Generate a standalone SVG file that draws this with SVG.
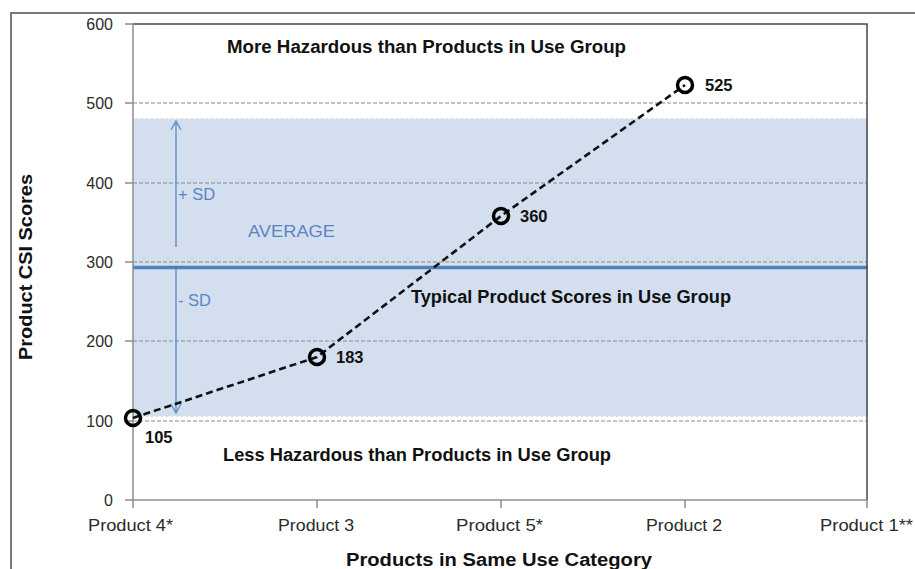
<svg xmlns="http://www.w3.org/2000/svg" width="915" height="569" viewBox="0 0 915 569">
  <style>
    .axis { stroke: #8c8c8c; stroke-width: 1.5; fill: none; }
    .frame { stroke: #4a4a4a; stroke-width: 1.5; fill: none; }
    .grid { stroke: #8a8a8a; stroke-width: 1; stroke-dasharray: 4 2; fill: none; }
    .tick { font-family: "Liberation Sans", Arial, sans-serif; font-size: 16px; fill: #2b2b2b; }
    .zone { font-family: "Liberation Sans", Arial, sans-serif; font-size: 17.5px; font-weight: bold; fill: #111; }
    .val { font-family: "Liberation Sans", Arial, sans-serif; font-size: 16.5px; font-weight: bold; fill: #111; }
    .sd { font-family: "Liberation Sans", Arial, sans-serif; font-size: 16.5px; fill: #5b85bf; }
    .title { font-family: "Liberation Sans", Arial, sans-serif; font-size: 18px; font-weight: bold; fill: #111; }
    .series { stroke: #111; stroke-width: 2.6; stroke-dasharray: 7 4; fill: none; }
    .pt { stroke: #000; stroke-width: 3.5; fill: none; }
    .sdline { stroke: #6a93c8; stroke-width: 1.5; fill: none; }
  </style>
  <defs>
    <marker id="open-head" viewBox="0 0 12 12" refX="11" refY="6" markerWidth="12" markerHeight="12" markerUnits="userSpaceOnUse" orient="auto">
      <path d="M2,1 L11,6 L2,11" fill="none" stroke="#6a93c8" stroke-width="1.5"/>
    </marker>
  </defs>

  <rect width="915" height="569" fill="#ffffff"/>

  <!-- outer chart frame -->
  <path d="M11,569 V13 H915" stroke="#7a7a7a" stroke-width="2" fill="none"/>

  <!-- typical-range band (mean ± SD) -->
  <g id="band">
    <rect x="133" y="118" width="735" height="299" fill="#d3dfef"/>
    <line x1="133" y1="118.5" x2="868" y2="118.5" stroke="#ffffff" stroke-width="1" stroke-dasharray="3 2" opacity="0.8"/>
    <line x1="133" y1="416.5" x2="868" y2="416.5" stroke="#ffffff" stroke-width="1" stroke-dasharray="3 2" opacity="0.8"/>
  </g>

  <!-- gridlines -->
  <g id="grid">
    <line class="grid" x1="133" y1="103" x2="867" y2="103"/>
    <line class="grid" x1="133" y1="183" x2="867" y2="183"/>
    <line class="grid" x1="133" y1="262" x2="867" y2="262"/>
    <line class="grid" x1="133" y1="341" x2="867" y2="341"/>
    <line class="grid" x1="133" y1="421" x2="867" y2="421"/>
  </g>

  <!-- average line -->
  <line id="average" x1="133" y1="267.5" x2="868" y2="267.5" stroke="#4f81bd" stroke-width="3.5"/>

  <!-- plot frame and axes -->
  <g id="axes">
    <path class="frame" d="M133,24 H867 V500"/>
    <line class="axis" x1="133" y1="24" x2="133" y2="500"/>
    <line class="axis" x1="125" y1="500" x2="867" y2="500"/>
    <g class="axis">
      <line x1="125" y1="24" x2="133" y2="24"/>
      <line x1="125" y1="103" x2="133" y2="103"/>
      <line x1="125" y1="183" x2="133" y2="183"/>
      <line x1="125" y1="262" x2="133" y2="262"/>
      <line x1="125" y1="341" x2="133" y2="341"/>
      <line x1="125" y1="421" x2="133" y2="421"/>
      <line x1="133" y1="500" x2="133" y2="508"/>
      <line x1="317" y1="500" x2="317" y2="508"/>
      <line x1="501" y1="500" x2="501" y2="508"/>
      <line x1="685" y1="500" x2="685" y2="508"/>
      <line x1="867" y1="500" x2="867" y2="508"/>
    </g>
    <g class="tick" text-anchor="end">
      <text x="113" y="30">600</text>
      <text x="113" y="109">500</text>
      <text x="113" y="189">400</text>
      <text x="113" y="268">300</text>
      <text x="113" y="347">200</text>
      <text x="113" y="427">100</text>
      <text x="113" y="506">0</text>
    </g>
    <g class="tick">
      <text x="88" y="531" textLength="85" lengthAdjust="spacingAndGlyphs">Product 4*</text>
      <text x="278" y="531" textLength="76" lengthAdjust="spacingAndGlyphs">Product 3</text>
      <text x="456" y="531" textLength="87" lengthAdjust="spacingAndGlyphs">Product 5*</text>
      <text x="646" y="531" textLength="76" lengthAdjust="spacingAndGlyphs">Product 2</text>
      <text x="820" y="531" textLength="93" lengthAdjust="spacingAndGlyphs">Product 1**</text>
    </g>
  </g>

  <!-- SD arrows -->
  <g id="sd-arrows">
    <line class="sdline" x1="176" y1="247" x2="176" y2="121" marker-end="url(#open-head)"/>
    <line class="sdline" x1="176" y1="269" x2="176" y2="413" marker-end="url(#open-head)"/>
    <text class="sd" x="178" y="200">+ SD</text>
    <text class="sd" x="178" y="306">- SD</text>
    <text class="sd" x="248" y="237" textLength="87" lengthAdjust="spacingAndGlyphs">AVERAGE</text>
  </g>

  <!-- zone labels -->
  <g id="zones">
    <text class="zone" x="227" y="53" textLength="399" lengthAdjust="spacingAndGlyphs">More Hazardous than Products in Use Group</text>
    <text class="zone" x="411" y="303" textLength="320" lengthAdjust="spacingAndGlyphs">Typical Product Scores in Use Group</text>
    <text class="zone" x="223" y="461" textLength="388" lengthAdjust="spacingAndGlyphs">Less Hazardous than Products in Use Group</text>
  </g>

  <!-- connectors: product score series -->
  <g id="connectors">
    <polyline class="series" points="133,418 317,357 501,216 685,85"/>
  </g>

  <!-- product score points -->
  <g id="p4"><circle class="pt" cx="133" cy="418" r="7.5"/><text class="val" x="145" y="443">105</text></g>
  <g id="p3"><circle class="pt" cx="317" cy="357" r="7.5"/><text class="val" x="336" y="363">183</text></g>
  <g id="p5"><circle class="pt" cx="501" cy="216" r="7.5"/><text class="val" x="520" y="222">360</text></g>
  <g id="p2"><circle class="pt" cx="685" cy="85" r="7.5"/><text class="val" x="705" y="91">525</text></g>

  <!-- axis titles -->
  <text class="title" x="0" y="0" text-anchor="middle" transform="translate(32,267) rotate(-90)" textLength="186" lengthAdjust="spacingAndGlyphs">Product CSI Scores</text>
  <text class="title" x="346" y="566" textLength="306" lengthAdjust="spacingAndGlyphs">Products in Same Use Category</text>
</svg>
